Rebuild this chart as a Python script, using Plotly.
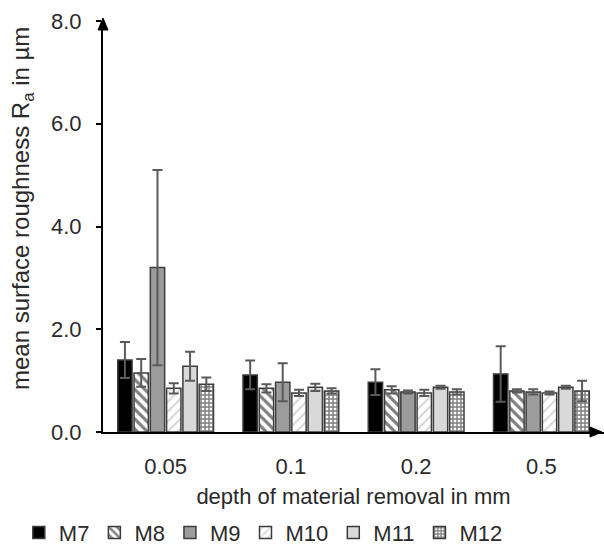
import plotly.graph_objects as go

categories = ["0.05", "0.1", "0.2", "0.5"]
series_names = ["M7", "M8", "M9", "M10", "M11", "M12"]
M7 = [1.40, 1.11, 0.97, 1.13]
M7_err = [0.35, 0.28, 0.25, 0.54]
M8 = [1.15, 0.85, 0.82, 0.80]
M8_err = [0.27, 0.08, 0.07, 0.03]
M9 = [3.20, 0.97, 0.78, 0.78]
M9_err = [1.90, 0.37, 0.03, 0.05]
M10 = [0.85, 0.76, 0.76, 0.76]
M10_err = [0.10, 0.06, 0.06, 0.03]
M11 = [1.28, 0.87, 0.87, 0.87]
M11_err = [0.28, 0.07, 0.03, 0.03]
M12 = [0.93, 0.80, 0.78, 0.80]
M12_err = [0.13, 0.05, 0.05, 0.20]

values = [M7, M8, M9, M10, M11, M12]
errors = [M7_err, M8_err, M9_err, M10_err, M11_err, M12_err]

styles = [
    dict(color="#000000"),
    dict(color="white", pattern=dict(shape="\\", fgcolor="black", bgcolor="white", size=7, solidity=0.45)),
    dict(color="#9c9c9c"),
    dict(color="white", pattern=dict(shape="/", fgcolor="#b0b0b0", bgcolor="white", size=7, solidity=0.3)),
    dict(color="#d9d9d9"),
    dict(color="white", pattern=dict(shape="+", fgcolor="black", bgcolor="white", size=4, solidity=0.6)),
]

fig = go.Figure()
for name, vals, errs, st in zip(series_names, values, errors, styles):
    marker = dict(color=st["color"], line=dict(color="#3c3c3c", width=1.5))
    if "pattern" in st:
        marker["pattern"] = st["pattern"]
    fig.add_trace(go.Bar(
        name=name, x=categories, y=vals,
        marker=marker,
        error_y=dict(type="data", array=errs, visible=True, color="#5a5a5a", thickness=2, width=5),
    ))

font_family = "Liberation Sans, Arial, sans-serif"
fig.update_layout(
    width=604, height=548,
    margin=dict(l=103, r=0, t=21, b=116),
    paper_bgcolor="white", plot_bgcolor="white",
    barmode="group", bargap=0.22, bargroupgap=0.12,
    font=dict(family=font_family, size=22, color="#2a2a2a"),
    showlegend=True,
    legend=dict(orientation="h", x=0.32, xanchor="center", yref="container", y=0.028, yanchor="middle",
                font=dict(size=22), itemwidth=30, traceorder="normal"),
    xaxis=dict(
        range=[-0.5, 3.5], showline=True, linecolor="black", linewidth=2,
        ticks="", showgrid=False, zeroline=False,
        tickfont=dict(size=22), ticklabelstandoff=14,
        title=dict(text="depth of material removal in mm", font=dict(size=22), standoff=10),
    ),
    yaxis=dict(
        range=[0, 8], tickvals=[0, 2, 4, 6, 8], ticktext=["0.0", "2.0", "4.0", "6.0", "8.0"],
        showline=True, linecolor="black", linewidth=2, ticks="outside", ticklen=5,
        tickcolor="black", tickwidth=1.5, showgrid=False, zeroline=False,
        tickfont=dict(size=22), ticklabelstandoff=10,
    ),
)

# y-axis title as a rotated annotation (positioned like the reference)
fig.add_annotation(text="mean surface roughness R<sub>a</sub> in µm", textangle=-90,
                   xref="paper", yref="paper", x=(22 - 103) / 501, y=(432 - 209) / 411,
                   xanchor="center", yanchor="middle", showarrow=False,
                   font=dict(size=24, family=font_family, color="#2a2a2a"))

# axis arrow heads (pixel-sized paths anchored at the axis ends)
fig.add_shape(type="path", xref="paper", yref="paper", xsizemode="pixel", ysizemode="pixel",
              xanchor=0, yanchor=1, path="M-5,-9 L5,-9 L0,3 Z",
              fillcolor="black", line=dict(color="black", width=1))
fig.add_shape(type="path", xref="paper", yref="paper", xsizemode="pixel", ysizemode="pixel",
              xanchor=1, yanchor=0, path="M-14,-5 L-14,5 L-2,0 Z",
              fillcolor="black", line=dict(color="black", width=1))

fig.write_html("out.html")
